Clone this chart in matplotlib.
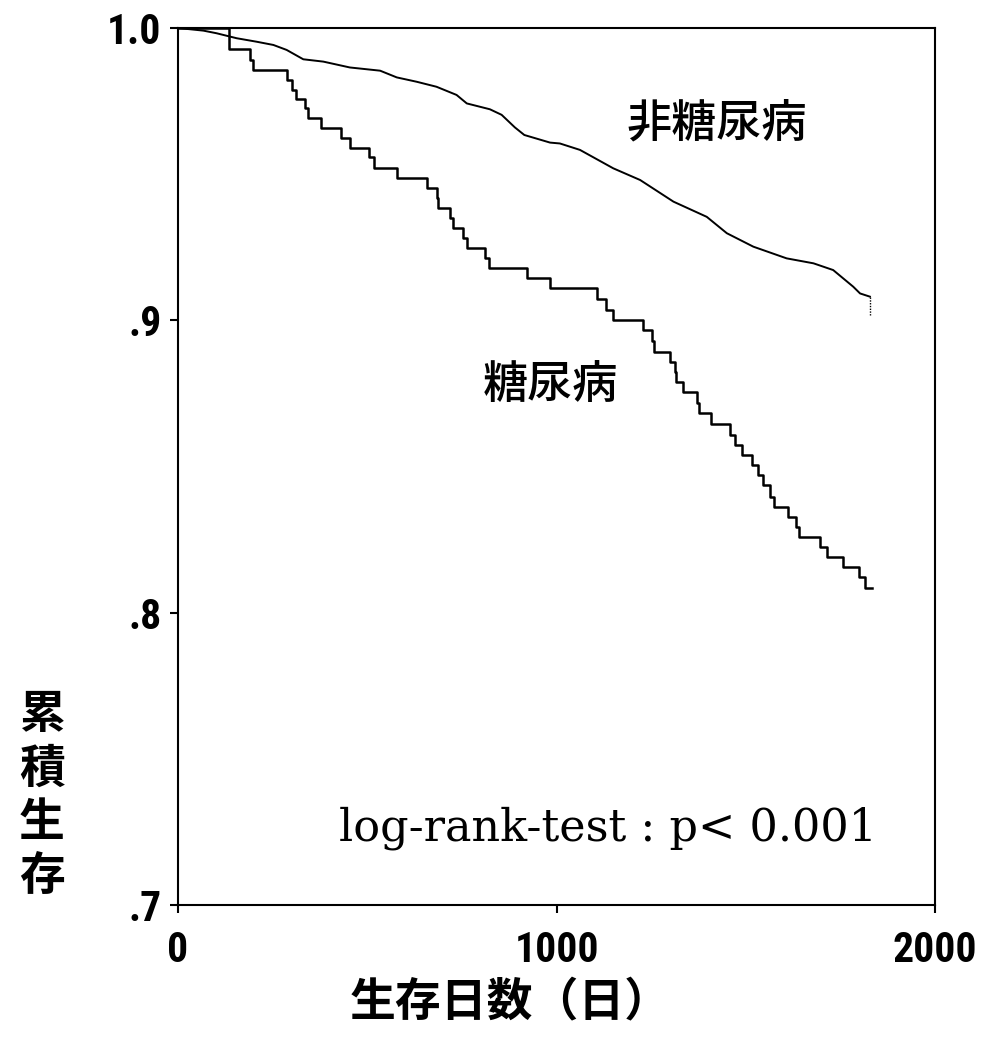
import matplotlib
matplotlib.use("Agg")
import matplotlib.pyplot as plt
from matplotlib import font_manager as fm

# ---------------- data ----------------
dm_days = [0, 136, 190, 197, 289, 300, 312, 336, 343, 377, 431, 454, 505, 518,
           578, 657, 683, 688, 719, 727, 754, 763, 811, 822, 921, 983, 1106,
           1132, 1150, 1229, 1251, 1258, 1300, 1312, 1317, 1335, 1370, 1377,
           1408, 1458, 1472, 1489, 1516, 1533, 1546, 1564, 1575, 1612, 1634,
           1640, 1696, 1714, 1756, 1800, 1815, 1833]
dm_surv = [1.0, 0.9927, 0.9891, 0.9856, 0.9822, 0.9788, 0.9757, 0.9725,
           0.9691, 0.9657, 0.9623, 0.9588, 0.9558, 0.9520, 0.9486, 0.9452,
           0.9417, 0.9383, 0.9349, 0.9315, 0.9281, 0.9246, 0.9212, 0.9178,
           0.9144, 0.9110, 0.9072, 0.9035, 0.9001, 0.8967, 0.8930, 0.8893,
           0.8858, 0.8824, 0.8790, 0.8756, 0.8716, 0.8682, 0.8645, 0.8608,
           0.8573, 0.8539, 0.8505, 0.8471, 0.8437, 0.8397, 0.8362, 0.8328,
           0.8293, 0.8258, 0.8225, 0.8189, 0.8157, 0.8123, 0.8083, 0.8083]

nondm_days = [0, 67, 102, 155, 208, 252, 287, 331, 384, 454, 534, 578, 631,
              683, 736, 763, 824, 855, 890, 915, 983, 1009, 1062, 1150, 1221,
              1309, 1397, 1450, 1520, 1608, 1679, 1731, 1784, 1802, 1828]
nondm_surv = [1.0, 0.9991, 0.9982, 0.9965, 0.9953, 0.9942, 0.9925, 0.9893,
              0.9885, 0.9865, 0.9854, 0.9831, 0.9816, 0.9799, 0.9771, 0.9742,
              0.9722, 0.9703, 0.9660, 0.9634, 0.9608, 0.9605, 0.9583, 0.9520,
              0.9480, 0.9406, 0.9354, 0.9298, 0.9252, 0.9212, 0.9195, 0.9172,
              0.9115, 0.9092, 0.9081]
nondm_tail_days = [1828, 1828]
nondm_tail_surv = [0.9081, 0.9018]

x_ticks = [0, 1000, 2000]
x_ticklabels = ["0", "1000", "2000"]
y_ticks = [0.7, 0.8, 0.9, 1.0]
y_ticklabels = [".7", ".8", ".9", "1.0"]

label_dm = "糖尿病"
label_nondm = "非糖尿病"
test_text = "log-rank-test : p< 0.001"
xlabel = "生存日数（日）"
ylabel_chars = ["累", "積", "生", "存"]

# ---------------- fonts ----------------
available = {f.name for f in fm.fontManager.ttflist}
narrow_candidates = ["Liberation Sans Narrow", "Roboto Condensed",
                     "DejaVu Sans Condensed", "Open Sans Condensed"]
tick_family = next((f for f in narrow_candidates if f in available), None)
if tick_family is None:
    tick_family = "Liberation Sans"
    tick_size = 27
else:
    tick_size = 30
cjk = ["Noto Sans CJK JP", "DejaVu Sans"]

W, H = 983, 1037
fig = plt.figure(figsize=(W / 100, H / 100), dpi=100)
L, R, T, B = 178, 935, 28, 905
ax = fig.add_axes([L / W, 1 - B / H, (R - L) / W, (B - T) / H])

ax.step(dm_days, dm_surv, where="post", color="black", lw=1.8)
ax.plot(nondm_days, nondm_surv, color="black", lw=1.4)
ax.plot(nondm_tail_days, nondm_tail_surv, color="black", lw=1.0, ls=(0, (1, 1)))

ax.set_xlim(0, 2000)
ax.set_ylim(0.7, 1.0)
ax.set_xticks(x_ticks)
ax.set_xticklabels(x_ticklabels)
ax.set_yticks(y_ticks)
ax.set_yticklabels(y_ticklabels)
for s in ax.spines.values():
    s.set_linewidth(1.5)
ax.tick_params(axis="both", direction="out", length=6, width=1.5)
ax.tick_params(axis="y", pad=6)
ax.tick_params(axis="x", pad=12)
for lab in ax.get_xticklabels() + ax.get_yticklabels():
    lab.set_fontfamily(tick_family)
    lab.set_fontweight("bold")
    lab.set_fontsize(tick_size)

ax.text(1424, 0.9675, label_nondm, family=cjk, fontsize=32.5, fontweight=500,
        ha="center", va="center")
ax.text(983, 0.8779, label_dm, family=cjk, fontsize=32.5, fontweight=500,
        ha="center", va="center")
ax.text(1136, 0.7263, test_text, family=["DejaVu Serif"], fontsize=32,
        ha="center", va="center")

fig.text(510 / W, 1 - 1002 / H, xlabel, family=cjk, fontsize=33,
         fontweight="bold", ha="center", va="center")
for ch, yc in zip(ylabel_chars, [715, 770, 823, 877]):
    fig.text(42 / W, 1 - yc / H, ch, family=cjk, fontsize=33,
             fontweight="bold", ha="center", va="center")

fig.savefig("out.png", dpi=100)
